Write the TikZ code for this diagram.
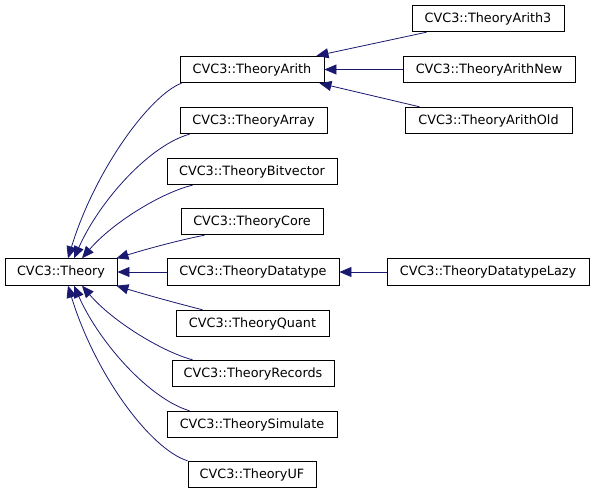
\documentclass[tikz,border=0pt]{standalone}
\usepackage{fontspec}
\newfontfamily\dejavu{DejaVu Sans}
\usetikzlibrary{arrows.meta}
\definecolor{edgeblue}{HTML}{191970}
\begin{document}
\begin{tikzpicture}[x=1pt,y=-1pt,
  box/.style={draw=black, line width=0.9pt, inner sep=0pt, minimum height=26.5pt, font=\dejavu\fontsize{12.8}{15}\selectfont},
  edge/.style={draw=edgeblue, line width=0.8pt, -{Triangle[length=12pt,width=10pt]}}]
\useasboundingbox (0,0) rectangle (594,493);
\node[box, minimum width=112pt] (theory) at (61,272) {CVC3::Theory};
\node[box, minimum width=144pt] (arith) at (252,69.5) {CVC3::TheoryArith};
\node[box, minimum width=152pt] (arith3) at (488,18.5) {CVC3::TheoryArith3};
\node[box, minimum width=172pt] (arithnew) at (489,69.5) {CVC3::TheoryArithNew};
\node[box, minimum width=167pt] (arithold) at (488.5,120.5) {CVC3::TheoryArithOld};
\node[box, minimum width=147pt] (array) at (253.5,120.5) {CVC3::TheoryArray};
\node[box, minimum width=170pt] (bitvector) at (252,171.5) {CVC3::TheoryBitvector};
\node[box, minimum width=142pt] (core) at (252,221.5) {CVC3::TheoryCore};
\node[box, minimum width=172pt] (datatype) at (253,272) {CVC3::TheoryDatatype};
\node[box, minimum width=202pt] (lazy) at (488,272) {CVC3::TheoryDatatypeLazy};
\node[box, minimum width=153pt] (quant) at (252.5,323.5) {CVC3::TheoryQuant};
\node[box, minimum width=162pt] (records) at (253,373.5) {CVC3::TheoryRecords};
\node[box, minimum width=170pt] (simulate) at (252,424.5) {CVC3::TheorySimulate};
\node[box, minimum width=128pt] (uf) at (252,474.5) {CVC3::TheoryUF};
% arith children
\draw[edge] ([xshift=15pt]arith3.south west) -- ([xshift=-8pt]arith.north east);
\draw[edge] (arithnew) -- (arith);
\draw[edge] ([xshift=15pt]arithold.north west) -- ([xshift=-5pt]arith.south east);
\draw[edge] (lazy) -- (datatype);
% theory children
\draw[edge] ([xshift=2pt]arith.south west) .. controls (150,95) and (95,170) .. ([xshift=7pt]theory.north);
\draw[edge] ([xshift=10pt]array.south west) .. controls (150,145) and (100,200) .. ([xshift=13pt]theory.north);
\draw[edge] ([xshift=26pt]bitvector.south west) .. controls (163,192) and (113,222) .. ([xshift=21pt]theory.north);
\draw[edge] ([xshift=24pt]core.south west) .. controls (180,240) and (150,248) .. ([xshift=-1pt]theory.north east);
\draw[edge] (datatype) -- (theory);
\draw[edge] ([xshift=27pt]quant.north west) .. controls (180,304) and (150,296) .. ([xshift=-1pt]theory.south east);
\draw[edge] ([xshift=21pt]records.north west) .. controls (163,352) and (113,322) .. ([xshift=21pt]theory.south);
\draw[edge] ([xshift=23pt]simulate.north west) .. controls (150,399) and (100,344) .. ([xshift=13pt]theory.south);
\draw[edge] (uf.north west) .. controls (150,449) and (95,374) .. ([xshift=7pt]theory.south);
\end{tikzpicture}
\end{document}
